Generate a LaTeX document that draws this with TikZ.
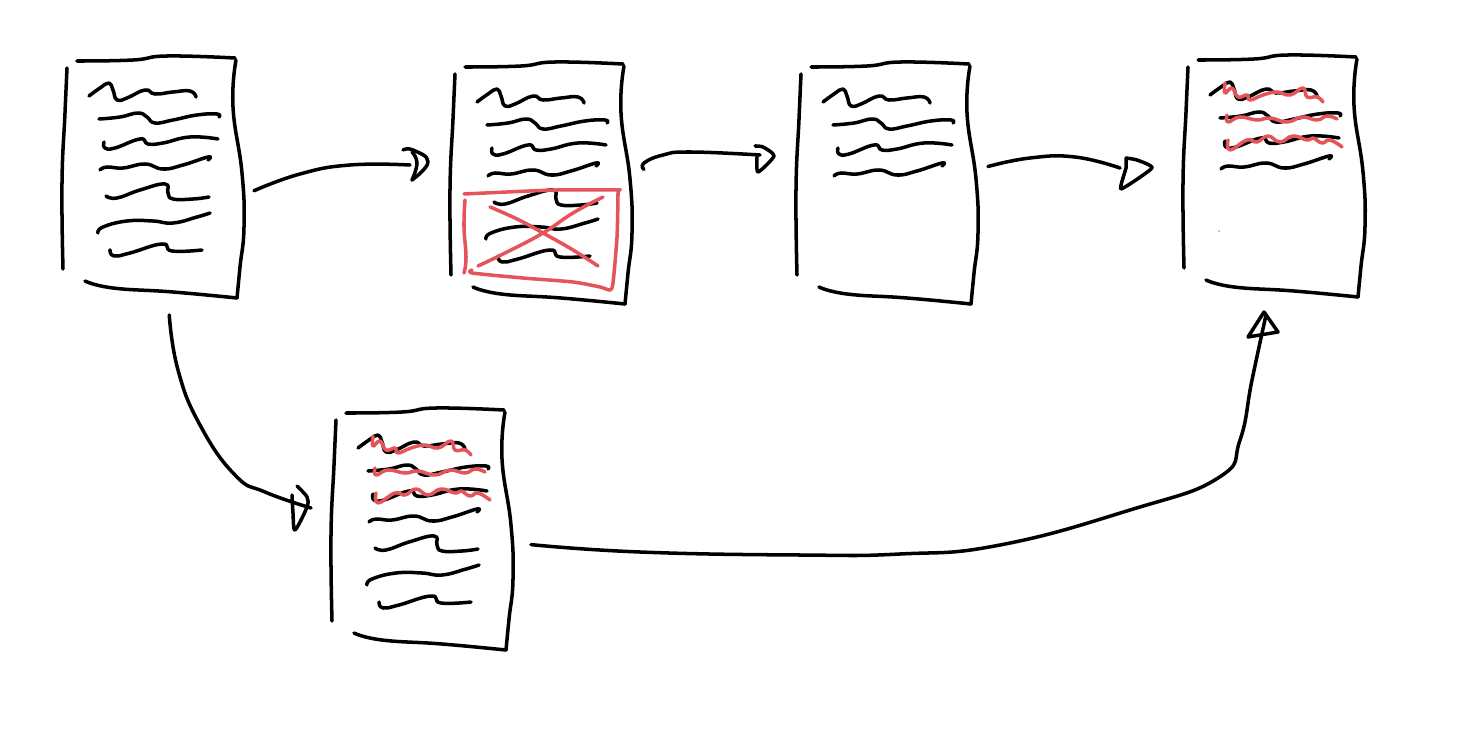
\documentclass[tikz,border=0pt]{standalone}
\usepackage{tikz}
\usetikzlibrary{positioning}

\definecolor{markred}{HTML}{E5535B}

\tikzset{
  ink/.style={line width=2pt, line cap=round, line join=round, tension=0.8},
  redink/.style={ink, markred},
  sheet/.style={minimum width=4.16cm, minimum height=5.48cm, inner sep=0pt, outer sep=0pt},
}

% page outline
\newcommand{\pageoutline}{
  \draw[ink] plot[smooth] coordinates {(67,68) (65,113) (62,183) (63,269)};
  \draw[ink] plot[smooth] coordinates {(77,61) (133,60) (167,56) (235,58)};
  \draw[ink] plot[smooth] coordinates {(236,60) (233,107) (242,173) (244,227) (240,267) (237,298)};
  \draw[ink] plot[smooth] coordinates {(237,298) (173,292) (113,288) (85,281)};
}
% first four text lines
\newcommand{\toplines}{
  \draw[ink] plot[smooth] coordinates {(89,96) (100,88) (109,83) (113,90) (117,100) (127,98) (145,90) (155,94) (173,92) (190,91) (196,97)};
  \draw[ink] plot[smooth] coordinates {(99,119) (120,117) (138,113) (147,117) (155,123) (173,120) (197,115) (217,114) (219,117)};
  \draw[ink] plot[smooth] coordinates {(104,142) (105,148) (115,148) (140,139) (148,144) (163,143) (190,137) (218,139)};
  \draw[ink] plot[smooth] coordinates {(100,170) (107,167) (123,168) (145,164) (163,169) (183,165) (208,157) (208,160)};
}
% last three text lines
\newcommand{\bottomlines}{
  \draw[ink] plot[smooth] coordinates {(106,196) (117,198) (140,190) (165,184) (168,193) (173,199) (193,199) (209,197)};
  \draw[ink] plot[smooth] coordinates {(98,233) (103,227) (127,221) (153,221) (173,223) (197,217) (210,213)};
  \draw[ink] plot[smooth] coordinates {(110,250) (114,256) (130,253) (162,244) (172,251) (202,250)};
}
% red wavy marks over the first lines
\newcommand{\redwaves}{
  \draw[redink] plot[smooth] coordinates {(104,84) (104,94) (111,89) (117,98) (126,96) (129,101) (142,96) (156,93) (169,96) (182,89) (186,98) (196,98) (202,103)};
  \draw[redink] plot[smooth] coordinates {(106,116) (107,123) (119,118) (136,121) (149,119) (166,123) (181,118) (196,121) (206,117) (216,120)};
  \draw[redink] plot[smooth] coordinates {(107,141) (109,151) (126,141) (136,143) (147,137) (159,143) (172,137) (186,141) (192,139) (201,144) (209,141) (221,148)};
}

\begin{document}
\begin{tikzpicture}[x=0.02cm, y=-0.02cm]
  \useasboundingbox (0,0) rectangle (1469,733);

  % Named sheets, connectors start from these
  \node[sheet] (first) at (150,178) {};
  \node[sheet] (second) at (540,184) {};
  \node[sheet] (third) at (884,183) {};
  \node[sheet] (fourth) at (1271,177) {};
  \node[sheet] (fifth) at (427,530) {};

  % Arrow ends
  \coordinate (headsecond) at (410,165);
  \coordinate (headthird) at (760,155);
  \coordinate (headfourth) at (1120,168);
  \coordinate (headfifth) at (311,508);
  \coordinate (headtop) at (1266,315);

  % First page
  \pageoutline
  \toplines
  \bottomlines

  % Second page, with crossed out box
  \begin{scope}[shift={(388,6)}]
    \pageoutline
    \toplines
    \bottomlines
  \end{scope}
  \draw[redink] plot[smooth, tension=0.4] coordinates {(464,194) (507,192) (557,190) (617,190) (618,193) (617,237) (613,283) (610,290) (600,287) (573,282) (523,278) (472,273) (472,270)};
  \draw[redink] plot[smooth] coordinates {(465,200) (464,227) (466,257) (464,273)};
  \draw[redink] plot[smooth] coordinates {(490,207) (517,219) (543,233) (573,250) (598,266)};
  \draw[redink] plot[smooth] coordinates {(603,197) (573,213) (543,233) (507,252) (478,266)};

  % Third page
  \begin{scope}[shift={(734,6)}]
    \pageoutline
    \toplines
  \end{scope}

  % Fourth page
  \begin{scope}[shift={(1121,-1)}]
    \pageoutline
    \toplines
    \redwaves
  \end{scope}
  \fill (1219,231) circle (0.6);

  % Fifth page
  \begin{scope}[shift={(269,352)}]
    \pageoutline
    \toplines
    \bottomlines
    \redwaves
  \end{scope}

  % Connectors
  \draw[ink] plot[smooth] coordinates {(first.-7) (300,174) (350,165) (headsecond)};
  \draw[ink] plot[smooth] coordinates {(second.8) (644,163) (663,155) (690,152) (headthird)};
  \draw[ink] plot[smooth] coordinates {(third.9) (1030,158) (1075,157) (headfourth)};
  \draw[ink] plot[smooth] coordinates {(first.-82) (178,370) (200,425) (235,475) (265,492) (headfifth)};
  \draw[ink] plot[smooth] coordinates {(fifth.-8) (640,552) (800,555) (900,554) (1000,545) (1130,510) (1218,478) (1240,440) (1252,380) (headtop)};

  % Hand drawn arrow heads
  \draw[ink] plot[smooth] coordinates {(403,150) (413,150) (428,162) (412,180)};
  \draw[ink] plot[smooth] coordinates {(412,180) (417,163) (412,152)};
  \draw[ink] plot[smooth, tension=0.4] coordinates {(755,146) (763,147) (774,156) (758,172) (757,157)};
  \draw[ink] plot[smooth, tension=0.3] coordinates {(1126,158) (1137,160) (1152,168) (1121,189) (1126,168) (1126,158)};
  \draw[ink] plot[smooth, tension=0.5] coordinates {(297,486) (307,497) (307,507) (295,530) (293,513) (292,495)};
  \draw[ink] (1248,337) -- (1264,312) -- (1278,332) -- cycle;
\end{tikzpicture}
\end{document}
